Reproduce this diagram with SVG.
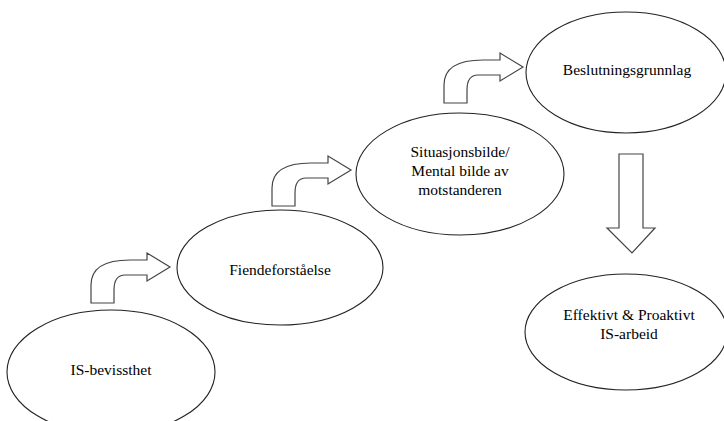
<svg xmlns="http://www.w3.org/2000/svg" width="724" height="421" viewBox="0 0 724 421">
<defs>
<style>
.node ellipse{fill:#fff;stroke:#222;stroke-width:1.1}
.node text{font-family:'Liberation Serif','DejaVu Serif',serif;font-size:15.5px;fill:#000;text-anchor:middle}
.arrow{fill:#fff;stroke:#444;stroke-width:1.2;stroke-linejoin:miter}
</style>
<path id="bent" d="M0,0 L0,-18 Q0,-43 39,-43 L56,-43 L56,-50 L79,-36 L56,-22 L56,-28 L34,-28 Q23,-28 23,-13 L23,0 Z"/>
</defs>
<rect width="724" height="421" fill="#fff"/>
<g id="connectors">
<use href="#bent" class="arrow" transform="translate(91,303)"/>
<use href="#bent" class="arrow" transform="translate(272,206)"/>
<use href="#bent" class="arrow" transform="translate(444,103)"/>
<path class="arrow" d="M619,154 L643,154 L643,228 L655,228 L632,253 L607,228 L619,228 Z"/>
</g>
<g id="n1" class="node" font-family="Liberation Serif, serif">
<ellipse cx="111" cy="372" rx="104" ry="62"/>
<text x="111" y="375">IS-bevissthet</text>
</g>
<g id="n2" class="node" font-family="Liberation Serif, serif">
<ellipse cx="280" cy="267.5" rx="103" ry="57.5"/>
<text x="280" y="275">Fiendeforståelse</text>
</g>
<g id="n3" class="node" font-family="Liberation Serif, serif">
<ellipse cx="460" cy="174" rx="104" ry="61"/>
<text x="460" y="157">Situasjonsbilde/</text>
<text x="460" y="176">Mental bilde av</text>
<text x="460" y="195">motstanderen</text>
</g>
<g id="n4" class="node" font-family="Liberation Serif, serif">
<ellipse cx="626" cy="72.5" rx="100" ry="60.5"/>
<text x="627" y="75">Beslutningsgrunnlag</text>
</g>
<g id="n5" class="node" font-family="Liberation Serif, serif">
<ellipse cx="626" cy="332" rx="101" ry="58"/>
<text x="629" y="320">Effektivt &amp; Proaktivt</text>
<text x="629" y="339">IS-arbeid</text>
</g>
</svg>
